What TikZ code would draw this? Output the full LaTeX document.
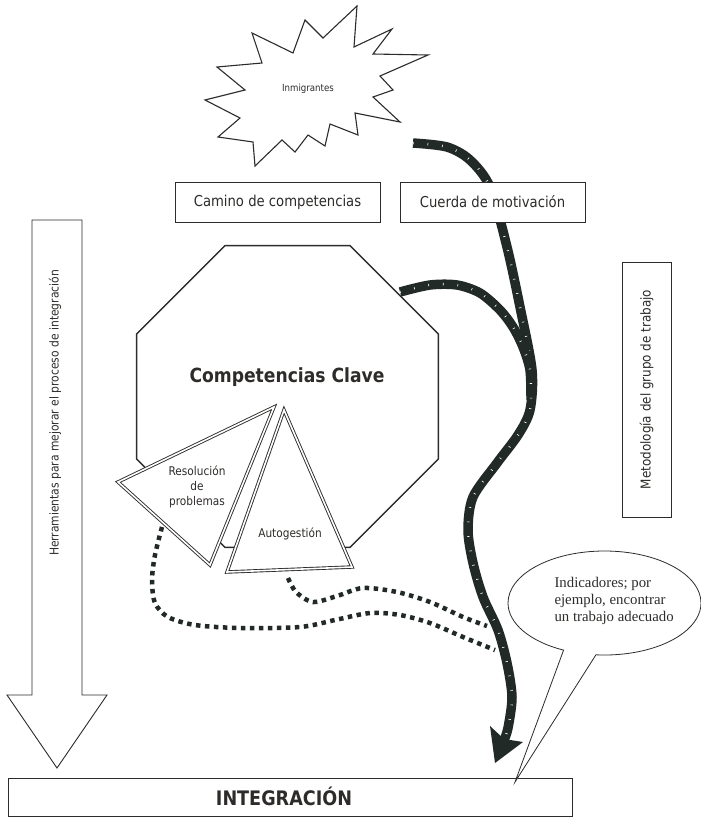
\documentclass[tikz,border=0pt]{standalone}
\usepackage{fontspec}
\usepackage{tikz}
\usetikzlibrary{shapes.geometric,shapes.callouts}
\newfontfamily\tahfont[FakeStretch=0.88]{DejaVu Sans}
\newfontfamily\serffont{Liberation Serif}
\definecolor{ink}{HTML}{2E2C2A}
\definecolor{rope}{HTML}{222A27}

\begin{document}
\begin{tikzpicture}
  [x=1pt,y=-1pt,
   every node/.style={text=ink},
   box/.style={draw=ink,fill=white,line width=0.9pt,inner sep=0pt},
   tri/.style={draw=ink,double=white,double distance=1.6pt,line width=0.9pt,fill=white,line join=miter},
   ropeline/.style={draw=rope,line width=9.5pt,
     postaction={draw=white,line width=2.5pt,dash pattern=on 0.6pt off 14pt}},
   dots/.style={draw=rope,line width=4.5pt,dash pattern=on 4.5pt off 4.5pt}]
  \fill[white] (0,0) rectangle (701,817);
  \useasboundingbox (0,0) rectangle (701,817);

  % starburst
  \draw[ink,line width=1.1pt,fill=white,line join=miter]
    (357,6) -- (354,47) -- (392,29) -- (373,54) -- (428,55) -- (380,76) -- (393,90)
    -- (373,97) -- (400,122) -- (355,113) -- (358,135) -- (330,124) -- (325,146)
    -- (308,135) -- (295,152) -- (282,140) -- (255,166) -- (253,142) -- (218,137)
    -- (240,118) -- (205,100) -- (245,90) -- (217,67) -- (262,63) -- (252,33)
    -- (293,53) -- (305,20) -- (323,38) -- cycle;
  \node[font=\tahfont\fontsize{9.8}{12}\selectfont] (inmig) at (308,89) {Inmigrantes};

  % octagon and triangles
  \node[draw=ink,line width=1.3pt,fill=white,regular polygon,regular polygon sides=8,
    minimum size=326.6pt,inner sep=0pt] (octo) at (287.5,396.5) {};
  \node[font=\tahfont\bfseries\fontsize{19.5}{22}\selectfont] (clave) at (287,377) {Competencias Clave};
  \draw[tri] (274,407) -- (118,482) -- (210,565) -- cycle;
  \node[align=center,font=\tahfont\fontsize{12}{15}\selectfont] (resol) at (197,487) {Resolución\\de\\problemas};
  \draw[tri] (284,410) -- (227,572) -- (352,567) -- cycle;
  \node[font=\tahfont\fontsize{12}{15}\selectfont] (autog) at (290,534) {Autogestión};

  % dotted links
  \coordinate (dotA) at (162,527);
  \coordinate (dotB) at (288,578);
  \coordinate (dotAend) at (495,650);
  \coordinate (dotBend) at (487,626);
  \draw[dots] plot[smooth] coordinates {(dotA) (155,555) (152,580) (155,603) (168,617)
    (195,625) (240,628) (300,627) (335,620) (370,613) (400,615) (430,623) (463,637) (dotAend)};
  \draw[dots] plot[smooth] coordinates {(dotB) (296,592) (313,602) (337,596) (363,588)
    (397,592) (430,602) (463,617) (dotBend)};

  % rope
  \coordinate (ropeA) at (413,143);
  \coordinate (ropeB) at (400,292);
  \coordinate (ropeEnd) at (495,763);
  \draw[ropeline] plot[smooth] coordinates {(ropeA)
    (447,147) (470,160) (490,187) (507,247) (520,307) (532,370) (530,410) (518,435)
    (497,463) (473,497) (468,530) (473,563) (483,597) (498,630) (507,663) (512,697)
    (508,728) (504,740)};
  \draw[ropeline] plot[smooth] coordinates {(ropeB) (430,285) (457,285) (480,293)
    (500,310) (513,327) (523,347) (530,370) (531,400)};
  \fill[rope] (ropeEnd) -- (490,726) -- (504,739) -- (523,742) -- cycle;

  % boxes
  \node[box,minimum width=205pt,minimum height=40pt,font=\tahfont\fontsize{15}{18}\selectfont]
    (camino) at (277.5,202) {Camino de competencias};
  \node[box,minimum width=185pt,minimum height=40pt,font=\tahfont\fontsize{15}{18}\selectfont]
    (cuerda) at (492.5,202) {Cuerda de motivación};
  \node[box,rotate=90,minimum width=255pt,minimum height=49pt,font=\tahfont\fontsize{13.6}{16}\selectfont]
    (metod) at (646.5,389.5) {Metodología del grupo de trabajo};

  % left arrow
  \draw[ink,line width=0.9pt,fill=white,line join=miter]
    (32,220) -- (82,220) -- (82,695) -- (107,695) -- (57,768) -- (7,695) -- (32,695) -- cycle;
  \node[rotate=90,font=\tahfont\fontsize{12.2}{15}\selectfont] (herram) at (55,413)
    {Herramientas para mejorar el proceso de integración};

  % bottom box
  \node[box,minimum width=564pt,minimum height=38pt] (integ) at (290,797) {};
  \node[font=\tahfont\bfseries\fontsize{20}{24}\selectfont] (integtxt) at (284,796) {INTEGRACIÓN};

  % callout
  \node[ellipse callout,draw=ink,line width=0.8pt,fill=white,minimum width=193pt,
    minimum height=104pt,inner sep=0pt,callout absolute pointer={(515,782)},
    callout pointer arc=20] (indic) at (604.5,603) {};
  \node[align=left,anchor=west,font=\serffont\fontsize{14.8}{17}\selectfont] (indictxt)
    at (551,601) {Indicadores; por\\ejemplo, encontrar\\un trabajo adecuado};
\end{tikzpicture}
\end{document}
